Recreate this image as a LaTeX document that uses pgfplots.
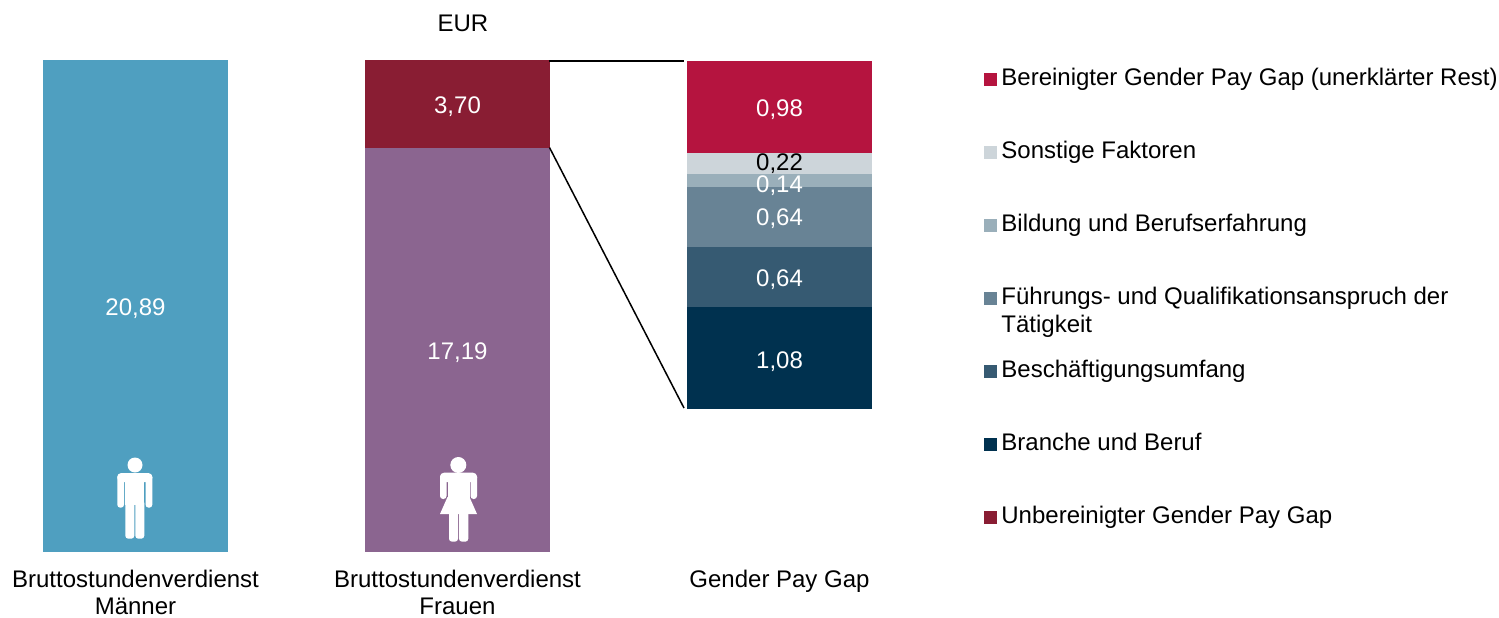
\documentclass[border=0pt]{standalone}
\usepackage{pgfplots}
\pgfplotsset{compat=1.18}
\usepackage{fontspec}
\setmainfont{Liberation Sans}
\definecolor{cMan}{HTML}{4F9FC0}
\definecolor{cWoman}{HTML}{8B6590}
\definecolor{cGap}{HTML}{891D33}
\definecolor{cBer}{HTML}{B5143F}
\definecolor{cSon}{HTML}{CDD5DA}
\definecolor{cBil}{HTML}{9AAFBA}
\definecolor{cFue}{HTML}{688395}
\definecolor{cBes}{HTML}{365A72}
\definecolor{cBra}{HTML}{00314F}
\pgfplotsset{
  base/.style={scale only axis,width=749.5pt,xmin=0,xmax=1499,clip=false,
    enlargelimits=false,anchor=south west,/pgf/number format/assume math mode=true},
  lab/.style={nodes near coords={\pgfmathprintnumber[fixed,fixed zerofill,precision=2,use comma,assume math mode=true]{\pgfplotspointmeta}},
    nodes near coords align={anchor=center},
    every node near coord/.append style={anchor=center,font=\fontsize{12}{14}\selectfont}},
  seg/.style n args={2}{fill=#1,draw=none,bar width=92.5pt,bar shift=0pt,lab,
    every node near coord/.append style={text=white,yshift=#2}},
}
\begin{document}
\begin{tikzpicture}[x=1pt,y=1pt]
\path[use as bounding box] (0,0) rectangle (749.5pt,308.5pt);
% Frauen
\begin{axis}[base,at={(0pt,32.5pt)},height=245.75pt,ymin=0,ymax=20.89,hide axis,ybar stacked]
\addplot[seg={cWoman}{-1.5pt}] coordinates {(457.5,17.19)};
\addplot[seg={cGap}{-1.5pt}] coordinates {(457.5,3.70)};
\end{axis}
% Gender Pay Gap
\begin{axis}[base,at={(0pt,104.25pt)},height=173.75pt,ymin=0,ymax=3.70,hide axis,ybar stacked,
  reverse legend,
  legend image code/.code={\fill[#1,draw=none] (0pt,-3.25pt) rectangle (6.5pt,3.25pt);\path (8.5pt,0pt) circle (0pt);},
  legend cell align=left,
  legend style={draw=none,fill=none,at={(492pt,170.25pt)},anchor=north west,inner sep=0pt,outer sep=0pt,
    font=\fontsize{12}{14}\selectfont,row sep=25.5pt,
    nodes={text height=8.5pt,text depth=2.5pt,inner sep=0pt,outer sep=0pt}},
]
\addlegendimage{fill=cGap}
\addlegendentry{Unbereinigter Gender Pay Gap}
\addplot[seg={cBra}{-2pt}] coordinates {(779.5,1.08)};
\addlegendentry{Branche und Beruf}
\addplot[seg={cBes}{-1.5pt}] coordinates {(779.5,0.64)};
\addlegendentry{Beschäftigungsumfang}
\addplot[seg={cFue}{-1pt}] coordinates {(779.5,0.64)};
\addlegendentry{\smash{\begin{tabular}[t]{@{}l@{}}Führungs- und Qualifikationsanspruch der\\Tätigkeit\end{tabular}}}
\addplot[seg={cBil}{-2.5pt}] coordinates {(779.5,0.14)};
\addlegendentry{Bildung und Berufserfahrung}
\addplot[fill=cSon,draw=none,bar width=92.5pt,bar shift=0pt,lab,every node near coord/.append style={text=black,yshift=-0.25pt}] coordinates {(779.5,0.22)};
\addlegendentry{Sonstige Faktoren}
\addplot[seg={cBer}{-1.5pt}] coordinates {(779.5,0.98)};
\addlegendentry{Bereinigter Gender Pay Gap (unerklärter Rest)}
\end{axis}
% Maenner, connectors, labels
\begin{axis}[base,at={(0pt,32.5pt)},height=245.75pt,ymin=0,ymax=20.89,
  axis line style={draw=none},major tick length=0pt,ytick=\empty,
  xtick={135.5,457.5,779.5},
  xticklabels={{Bruttostundenverdienst\\Männer},{Bruttostundenverdienst\\Frauen},{Gender Pay Gap}},
  xticklabel style={align=center,anchor=north,inner sep=0pt,outer sep=0pt,yshift=-9.25pt,font=\fontsize{12}{13.25}\selectfont},
  title=EUR,title style={at={(463/1499,1)},anchor=south,yshift=5pt,font=\fontsize{12}{14}\selectfont},
]
\addplot[ybar,seg={cMan}{-124pt}] coordinates {(135.5,20.89)};
\addplot[black,line width=0.75pt,no marks] coordinates {(549,20.87) (684,20.87)};
\addplot[black,line width=0.75pt,no marks] coordinates {(549.5,17.19) (684,6.12)};
\end{axis}
% pictograms
\begin{scope}[x=0.5pt,y=-0.5pt,shift={(0,308.5pt)},white]
 % man
 \fill (135,465) circle (7.5);
 \fill[rounded corners=2pt] (117.3,473) rectangle (152.3,482);
 \fill[rounded corners=1.5pt] (117.3,474) rectangle (124,507.7);
 \fill[rounded corners=1.5pt] (145.6,474) rectangle (152.3,507.7);
 \fill (125.3,475) rectangle (144.3,505);
 \fill[rounded corners=1.5pt] (125.3,500) rectangle (134.3,538.7);
 \fill[rounded corners=1.5pt] (135.3,500) rectangle (144.3,538.7);
 % woman
 \fill (458.3,465) circle (8);
 \fill[rounded corners=2pt] (440,472.7) rectangle (477,482);
 \fill[rounded corners=1.5pt] (440,474) rectangle (446.5,499);
 \fill[rounded corners=1.5pt] (470.5,474) rectangle (477,499);
 \fill (447.5,475) rectangle (469.5,498);
 \fill (447.5,497) -- (469.5,497) -- (477,514) -- (440,514) -- cycle;
 \fill[rounded corners=1.5pt] (449,510) rectangle (458,541.7);
 \fill[rounded corners=1.5pt] (459,510) rectangle (468.3,541.7);
\end{scope}
\end{tikzpicture}
\end{document}
